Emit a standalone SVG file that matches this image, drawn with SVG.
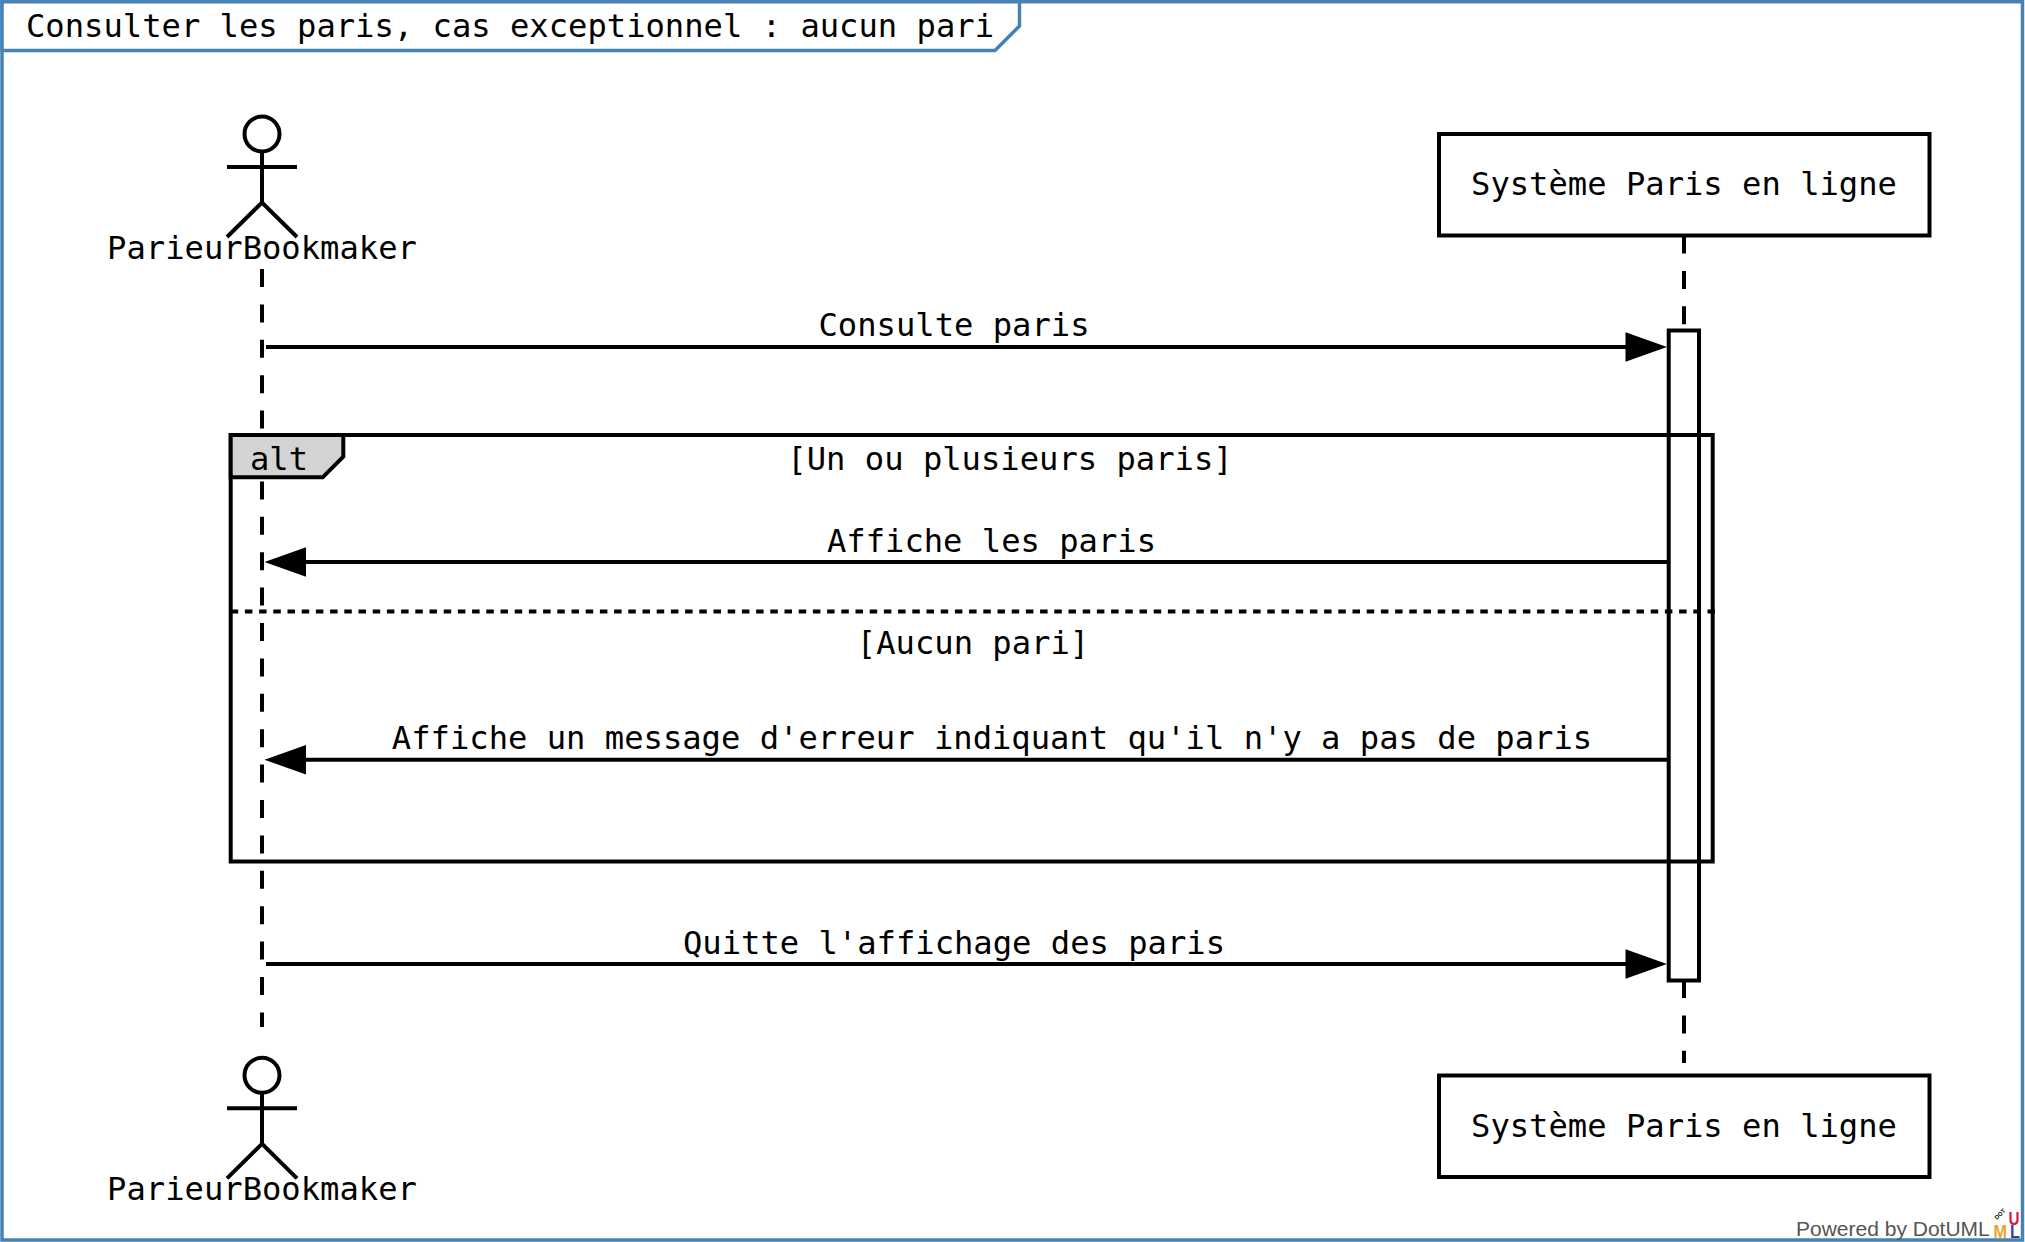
<svg xmlns="http://www.w3.org/2000/svg" width="2025" height="1242" viewBox="0 0 2025 1242">
<style>
text{font-family:"DejaVu Sans Mono","Liberation Mono",monospace;font-size:32.17px;fill:#000}
.m{text-anchor:middle}
.s{fill:none;stroke:#000;stroke-width:4}
.ll{fill:none;stroke:#000;stroke-width:4;stroke-dasharray:18 17.4}
.msg{fill:none;stroke:#000;stroke-width:4}
.head{fill:#000;stroke:none}
.fr{fill:#fff;stroke:#4682b4;stroke-width:3.5}
.logo{font-family:"Liberation Sans",Arial,sans-serif;font-weight:700;font-size:18px}
</style>
<rect width="2025" height="1242" fill="#fff"/>
<rect id="frame" class="fr" x="2" y="1.7" width="2020.500" height="1238.300"/>
<g id="title">
<path class="fr" d="M2 1.7H1019.500V26L995 50.500H2Z"/>
<text x="26" y="37">Consulter les paris, cas exceptionnel : aucun pari</text>
</g>
<g id="connectors">
<path class="ll" d="M262 269V1027"/>
<path class="ll" d="M1684 235.500V330"/>
<path class="ll" d="M1684 980V1063"/>
<g id="msg1"><path class="msg" d="M266 347H1630"/><path class="head" d="M1667 347L1625.500 332.300V361.700Z"/><text class="m" x="954" y="336">Consulte paris</text></g>
<g id="msg2"><path class="msg" d="M1667 562H302"/><path class="head" d="M264.500 562L306 547.300V576.700Z"/><text class="m" x="991.500" y="551.500">Affiche les paris</text></g>
<g id="msg3"><path class="msg" d="M1667 759.800H302"/><path class="head" d="M264.500 759.800L306 745.100V774.500Z"/><text class="m" x="992" y="749">Affiche un message d'erreur indiquant qu'il n'y a pas de paris</text></g>
<g id="msg4"><path class="msg" d="M266 964H1630"/><path class="head" d="M1667 964L1625.500 949.300V978.700Z"/><text class="m" x="954" y="954">Quitte l'affichage des paris</text></g>
</g>
<g id="activation"><rect class="s" x="1668.700" y="330.500" width="30.300" height="650"/></g>
<g id="alt">
<rect class="s" x="230.700" y="435" width="1482" height="426.500"/>
<path d="M230.700 611.500H1716" fill="none" stroke="#000" stroke-width="4" stroke-dasharray="7.500 6.700"/>
<path d="M230.700 435H343.300V456.700L322.700 477.300H230.700Z" fill="#d3d3d3" stroke="#000" stroke-width="4"/>
<text x="250" y="470">alt</text>
<text class="m" x="1010" y="470">[Un ou plusieurs paris]</text>
<text class="m" x="973" y="654">[Aucun pari]</text>
</g>
<g id="actor-top" class="s">
<circle cx="262" cy="134" r="17.500"/>
<path d="M262 151.500V202.500M227 167H297M227 237L262 202.500L297 237"/>
<text class="m" x="262" y="259.300" style="stroke:none">ParieurBookmaker</text>
</g>
<g id="actor-bottom" class="s">
<circle cx="262" cy="1075.300" r="17.500"/>
<path d="M262 1092.800V1143.800M227 1108.300H297M227 1178.300L262 1143.800L297 1178.300"/>
<text class="m" x="262" y="1199.500" style="stroke:none">ParieurBookmaker</text>
</g>
<g id="system-top"><rect class="s" x="1439" y="134" width="490.500" height="101.500" style="fill:#fff"/><text class="m" x="1684" y="195">Système Paris en ligne</text></g>
<g id="system-bottom"><rect class="s" x="1439" y="1075.500" width="490.500" height="101.500" style="fill:#fff"/><text class="m" x="1684" y="1137">Système Paris en ligne</text></g>
<g id="powered">
<text x="1796" y="1235.500" style="font-family:'Liberation Sans',Arial,sans-serif;font-size:21px;fill:#555">Powered by DotUML</text>
<text class="logo" transform="translate(2008.500 1224.500) scale(.85 1)" style="fill:#d81e3c">U</text>
<text class="logo" transform="translate(1993.500 1238) scale(.9 1)" style="fill:#e8a52c">M</text>
<text class="logo" transform="translate(2010 1238) scale(.9 1)" style="fill:#4a3c96">L</text>
<text class="logo" transform="translate(1997 1220) rotate(-45)" style="font-size:6px">DOT</text>
</g>
</svg>
